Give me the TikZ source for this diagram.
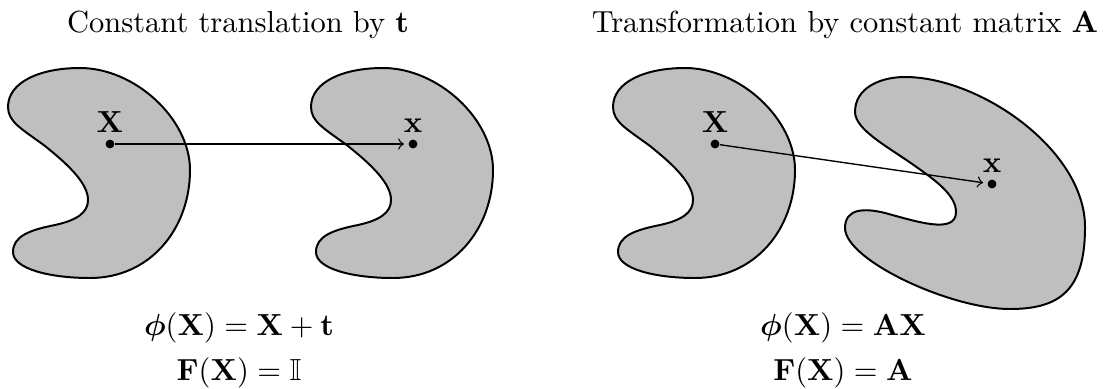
\documentclass[tikz,border=0pt]{standalone}
\usepackage{amsmath,amssymb}
\begin{document}
\begin{tikzpicture}[x=0.328pt,y=-0.328pt,
  blob/.style={draw=black, line width=0.65pt, fill=gray!50},
  dot/.style={circle, fill=black, inner sep=0pt, minimum size=2.9pt},
  arr/.style={->, line width=0.45pt, shorten >=1.3pt},
  lbl/.style={anchor=base, inner sep=0pt}]
\useasboundingbox (0,0) rectangle (1116,388);
\foreach \cx in {110,413,715}{
  \begin{scope}[shift={(\cx,144)}]
    \draw[blob] (-102,-37)
      .. controls (-102,-62) and (-70,-76) .. (-30,-76)
      .. controls (25,-76) and (80,-25) .. (80,26)
      .. controls (80,85) and (40,134) .. (-20,134)
      .. controls (-60,134) and (-97,125) .. (-97,108)
      .. controls (-97,92) and (-80,86) .. (-55,81)
      .. controls (-32,76) and (-22,68) .. (-22,56)
      .. controls (-22,40) and (-40,22) .. (-65,2)
      .. controls (-88,-15) and (-102,-22) .. cycle;
  \end{scope}
}
\draw[blob] (855,112)
  .. controls (855,88) and (880,77) .. (905,77)
  .. controls (980,77) and (1085,150) .. (1085,227)
  .. controls (1085,290) and (1060,309) .. (1010,309)
  .. controls (950,309) and (845,260) .. (845,228)
  .. controls (845,208) and (865,208) .. (885,213)
  .. controls (915,221) and (956,235) .. (956,212)
  .. controls (956,195) and (935,180) .. (915,166)
  .. controls (890,148) and (855,130) .. cycle;
% points
\node[dot] (X1) at (110,144) {};
\node[dot] (x1) at (413,144) {};
\node[dot] (X2) at (715,144) {};
\node[dot] (x2) at (992,184) {};
\node[lbl] (LX1) at (110,132) {$\mathbf{X}$};
\node[lbl] (Lx1) at (413,132) {$\mathbf{x}$};
\node[lbl] (LX2) at (715,132) {$\mathbf{X}$};
\node[lbl] (Lx2) at (992,172) {$\mathbf{x}$};
\draw[arr] (X1) -- (x1);
\draw[arr] (X2) -- (x2);
% titles
\node[lbl] (T1) at (238,32) {Constant translation by $\mathbf{t}$};
\node[lbl] (T2) at (845,32) {Transformation by constant matrix $\mathbf{A}$};
% formulas
\node[lbl] (F1a) at (239,335) {$\boldsymbol{\phi}(\mathbf{X})=\mathbf{X}+\mathbf{t}$};
\node[lbl] (F1b) at (239,380) {$\mathbf{F}(\mathbf{X})=\mathbb{I}$};
\node[lbl] (F2a) at (843,335) {$\boldsymbol{\phi}(\mathbf{X})=\mathbf{A}\mathbf{X}$};
\node[lbl] (F2b) at (843,380) {$\mathbf{F}(\mathbf{X})=\mathbf{A}$};
\end{tikzpicture}
\end{document}
